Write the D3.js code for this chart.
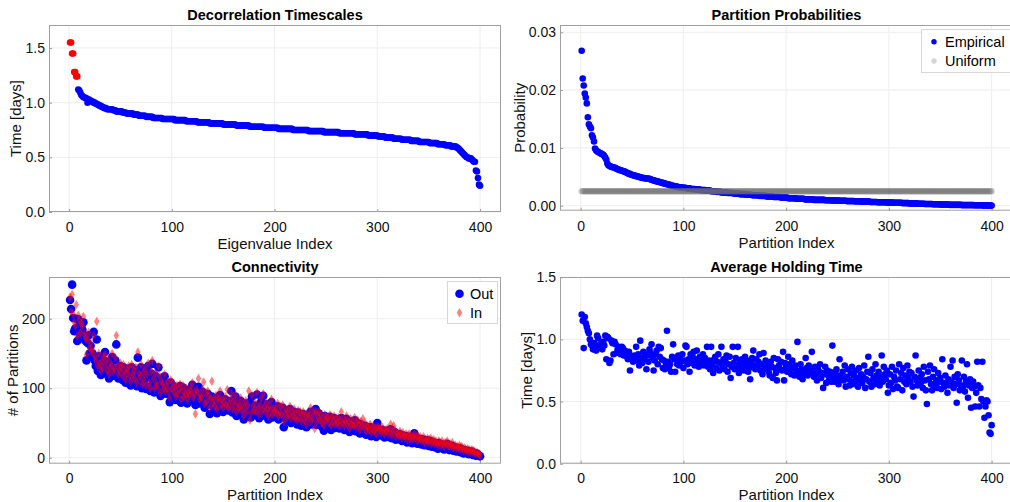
<!DOCTYPE html>
<html>
<head>
<meta charset="utf-8">
<script src="https://cdn.jsdelivr.net/npm/d3@7"></script>
<style>
  body { margin: 0; background: #fff; }
  svg { display: block; font-family: "Liberation Sans", Arial, Helvetica, sans-serif; }
</style>
</head>
<body>
<svg id="chart" width="1010" height="502"></svg>
<script>
// Markov partition summary: four panels

// decorrelation timescales, in hundredths of a day (index 1..400)
const timescales = [
  155,155,145,145,128,128,124,124,112,111, 109,107,106,105,105,104,104,100,103,102,
  102,101,101,100,100,99,99,98,98,97, 97,96,96,95,95,95,94,94,94,94,
  94,94,93,93,93,92,92,92,92,92, 92,91,91,91,91,90,90,90,90,90,
  90,90,89,89,89,89,89,88,88,88, 88,88,88,88,87,87,87,87,87,87,
  87,86,86,86,86,86,86,86,86,86, 85,85,85,85,85,85,85,85,85,85,
  85,85,84,84,84,84,84,84,84,84, 84,84,84,83,83,83,83,83,83,83,
  83,83,83,83,82,82,82,82,82,82, 82,82,82,82,82,82,81,81,81,81,
  81,81,81,81,81,81,81,81,81,80, 80,80,80,80,80,80,80,80,80,80,
  80,80,79,79,79,79,79,79,79,79, 79,79,79,79,79,78,78,78,78,78,
  78,78,78,78,78,78,78,78,78,77, 77,77,77,77,77,77,77,77,77,77,
  77,77,77,76,76,76,76,76,76,76, 76,76,76,76,76,76,76,75,75,75,
  75,75,75,75,75,75,75,75,75,75, 75,75,74,74,74,74,74,74,74,74,
  74,74,74,74,74,74,74,73,73,73, 73,73,73,73,73,73,73,73,73,73,
  73,73,72,72,72,72,72,72,72,72, 72,72,72,72,72,72,72,71,71,71,
  71,71,71,71,71,71,71,71,71,71, 70,70,70,70,70,70,70,70,70,70,
  69,69,69,69,69,69,69,68,68,68, 68,68,68,68,68,67,67,67,67,67,
  67,67,67,66,66,66,66,66,66,66, 66,66,65,65,65,65,65,65,65,65,
  64,64,64,64,64,64,64,64,64,64, 63,63,63,63,63,63,63,63,62,62,
  62,62,62,62,62,61,61,61,61,61, 61,60,60,60,60,60,59,59,58,57,
  56,55,54,53,52,51,50,50,49,49, 49,48,47,46,46,38,37,31,25,24
];
const highlighted = 8; // leading eigenvalues drawn in red

// partition probabilities, in units of 1e-4
const probabilities = [
  268,220,208,194,187,177,153,141,137,134, 122,118,111,99,96,94,93,92,91,90,
  89,88,86,83,80,73,70,69,68,67, 67,66,66,65,64,63,62,62,61,61,
  60,59,59,58,57,56,55,55,54,53, 53,52,52,51,51,50,50,49,49,48,
  48,48,47,47,47,47,46,46,45,44, 44,43,43,42,42,41,41,40,40,39,
  39,38,38,37,37,36,36,35,35,34, 34,33,33,33,32,32,32,32,31,31,
  31,31,30,30,30,30,29,29,29,29, 29,28,28,28,28,28,27,27,27,27,
  27,26,26,26,26,26,25,25,25,25, 25,24,24,24,24,24,23,23,23,23,
  23,23,22,22,22,22,22,22,21,21, 21,21,21,21,20,20,20,20,20,20,
  19,19,19,19,19,19,18,18,18,18, 18,18,18,17,17,17,17,17,17,17,
  16,16,16,16,16,16,16,15,15,15, 15,15,15,15,14,14,14,14,14,14,
  14,13,13,13,13,13,13,13,13,12, 12,12,12,12,12,12,12,11,11,11,
  11,11,11,11,11,11,10,10,10,10, 10,10,10,10,10,10,10,9.5,9.5,9.5,
  9.5,9.5,9.5,9,9,9,9,9,9,9, 9,8.5,8.5,8.5,8.5,8.5,8.5,8.5,8,8,
  8,8,8,8,8,8,7.5,7.5,7.5,7.5, 7.5,7.5,7.5,7,7,7,7,7,7,7,
  7,6.5,6.5,6.5,6.5,6.5,6.5,6.5,6,6, 6,6,6,6,6,6,6,5.5,5.5,5.5,
  5.5,5.5,5.5,5.5,5,5,5,5,5,5, 5,5,4.5,4.5,4.5,4.5,4.5,4.5,4.5,4,
  4,4,4,4,4,4,4,3.5,3.5,3.5, 3.5,3.5,3.5,3.5,3,3,3,3,3,3,
  3,3,2.5,2.5,2.5,2.5,2.5,2.5,2.5,2, 2,2,2,2,2,2,2,2,1.5,1.5,
  1.5,1.5,1.5,1.5,1.5,1.5,1.5,1.5,1.5,1.5, 1,1,1,1,1,1,1,1,1,1,
  1,1,0.8,0.8,0.8,0.8,0.8,0.7,0.7,0.7, 0.6,0.6,0.5,0.5,0.5,0.4,0.4,0.3,0.3,0.2
];
const uniformProbability = 25; // 1/400, same units

// connectivity: number of partitions reached (out) / reaching (in)
const outDegree = [
  227,214,249,201,182,186,200,168,199,190, 176,188,184,195,172,168,140,165,176,150,
  161,145,150,181,140,132,170,125,146,128, 119,135,126,140,152,130,120,138,114,126,
  131,145,118,122,140,163,128,114,120,132, 126,112,130,121,108,117,125,128,112,104,
  130,115,121,109,126,103,144,118,110,130, 100,119,107,125,99,115,132,102,96,121,
  135,110,94,118,104,97,130,114,89,108, 102,96,117,92,100,106,91,80,108,97,
  104,90,97,83,100,87,95,103,79,92, 101,84,88,96,78,90,85,99,93,105,
  82,88,76,94,91,102,78,86,83,95, 80,72,89,76,92,84,63,81,88,74,
  79,69,86,64,77,82,90,71,80,66, 75,84,70,79,68,74,81,96,65,78,
  72,88,60,76,67,70,82,63,74,55, 69,78,61,72,66,80,58,88,70,64,
  75,62,91,68,57,73,81,63,89,70, 60,77,66,55,72,64,80,58,69,62,
  66,59,74,55,63,70,58,72,44,61, 67,53,64,57,70,50,62,56,66,52,
  60,48,65,55,62,46,58,63,50,57, 44,61,53,58,66,48,55,62,51,70,
  47,56,64,50,58,45,53,39,60,49, 55,52,46,59,40,54,48,57,43,51,
  46,55,42,50,57,45,53,40,48,56, 42,49,37,52,44,46,41,54,38,47,
  50,43,35,48,41,45,39,46,33,43, 40,36,44,31,39,42,34,37,30,50,
  41,35,38,32,40,36,29,37,33,39, 30,35,41,28,34,31,37,26,33,30,
  27,34,29,24,32,28,25,31,22,27, 30,24,28,21,26,35,23,29,20,25,
  24,27,19,22,26,18,23,20,25,17, 21,24,16,19,22,15,20,18,13,21,
  17,14,19,16,12,18,15,20,13,11, 16,14,17,10,12,15,9,13,11,14,
  8,12,10,6,11,9,7,10,5,8, 6,9,4,7,5,3,6,4,3,2
];
const inDegree = [
  231,210,235,207,195,190,220,175,205,198, 180,193,190,203,178,172,148,170,180,158,
  165,152,155,176,146,140,196,132,150,135, 125,140,130,145,148,136,126,142,120,130,
  135,150,124,128,144,176,132,120,126,136, 130,118,134,125,112,122,128,132,118,110,
  134,120,126,114,130,108,152,122,116,134, 106,122,112,128,104,120,136,108,100,124,
  140,114,100,122,108,102,132,118,94,110, 106,100,120,96,104,110,96,86,112,100,
  108,94,102,88,104,92,98,106,84,96, 104,88,92,100,84,94,90,102,96,108,
  86,92,63,98,94,114,84,90,86,98, 109,78,92,80,96,88,72,86,110,78,
  84,74,90,70,82,86,96,76,84,72, 80,88,76,98,72,78,84,92,70,82,
  76,90,66,80,72,74,86,68,78,60, 72,82,66,76,96,54,64,90,74,68,
  80,66,94,72,62,76,86,68,92,74, 66,80,70,60,76,68,84,62,72,66,
  70,64,78,60,66,74,62,76,52,64, 70,58,68,62,74,56,66,60,70,56,
  64,54,68,58,66,52,62,66,54,60, 48,64,56,62,72,52,58,66,42,66,
  52,60,66,54,62,50,56,46,62,54, 58,56,50,62,46,58,52,60,48,56,
  50,58,46,54,66,50,56,46,52,60, 48,52,42,56,48,50,46,58,44,50,
  54,48,40,52,46,56,44,50,38,46, 44,40,48,36,42,46,38,42,34,44,
  44,40,42,36,44,40,34,40,38,42, 34,40,48,32,38,46,40,30,36,34,
  32,38,34,28,36,32,30,34,26,32, 34,28,32,26,30,34,28,32,24,30,
  28,30,24,26,30,22,26,24,28,22, 26,28,20,24,26,20,24,22,18,24,
  22,18,24,20,16,22,20,24,18,16, 20,18,22,14,16,18,14,16,14,18,
  12,16,14,10,14,12,10,13,8,11, 9,12,8,10,7,6,8,6,5,4
];

// average holding time, hundredths of a day
const holdingTime = [
  120,115,93,118,113,110,107,105,100,96, 95,92,97,95,91,103,101,93,96,94,
  92,98,95,103,84,102,101,81,83,99, 97,88,98,96,89,92,94,90,88,94,
  93,87,91,89,86,84,90,75,86,85, 82,87,86,94,83,88,79,99,85,81,
  90,84,88,76,87,82,92,89,96,85, 75,83,88,91,80,94,86,93,84,77,
  83,76,81,107,82,78,80,74,86,96, 84,74,85,80,87,79,84,82,88,77,
  83,95,94,80,84,74,88,81,86,90, 79,84,91,82,78,86,80,83,88,79,
  85,81,94,78,83,76,94,80,73,84, 86,77,82,88,75,81,94,79,84,76,
  82,87,74,80,86,69,78,94,81,76, 85,79,94,73,82,77,84,80,75,86,
  79,83,74,77,68,81,85,91,79,76, 84,78,82,88,75,80,72,89,77,83,
  76,80,74,71,82,78,69,85,77,73, 67,84,79,76,82,75,90,67,81,78,
  74,86,80,76,72,83,77,71,79,75, 98,73,70,80,76,68,74,72,85,77,
  71,79,74,75,90,73,70,78,72,67, 76,74,80,69,73,61,72,78,65,75,
  71,68,74,66,95,70,66,73,76,69, 64,84,71,68,74,67,79,62,70,76,
  68,63,73,78,66,71,64,75,69,62, 77,67,72,65,70,79,61,68,74,86,
  66,73,62,76,69,64,80,71,67,74, 63,70,87,66,78,72,68,75,57,63,
  72,65,78,60,70,67,75,62,61,80, 68,73,59,77,66,71,64,79,69,74,
  66,73,62,54,70,87,67,63,75,69, 65,72,61,78,67,59,48,74,68,79,
  64,59,70,76,63,67,61,73,66,69, 60,84,65,62,71,64,57,68,63,78,
  66,83,61,70,64,49,72,67,59,63, 83,62,70,58,66,80,53,63,68,45,
  61,66,62,46,57,82,63,46,61,52, 82,50,37,46,51,50,39,25,24,31
];

const indexTicks = [0, 100, 200, 300, 400];

[timescales, probabilities, outDegree, inDegree, holdingTime].forEach(function (a, k) {
  if (a.length !== 400) throw new Error('series ' + k + ' has ' + a.length + ' values');
});

const blue = '#0000ff';
const red = '#ff0000';

var svg = d3.select('#chart');

// one framed panel with grid, inward ticks, title and axis labels
function makePanel(p) {
  var g = svg.append('g');
  var x = d3.scaleLinear().domain(p.xDomain).range([p.left, p.right]);
  var y = d3.scaleLinear().domain(p.yDomain).range([p.bottom, p.top]);

  g.append('rect')
    .attr('x', p.left).attr('y', p.top)
    .attr('width', p.right - p.left).attr('height', p.bottom - p.top)
    .attr('fill', '#fff');

  // grid
  g.selectAll('.gx').data(indexTicks).enter().append('line')
    .attr('x1', d => x(d)).attr('x2', d => x(d))
    .attr('y1', p.top).attr('y2', p.bottom)
    .attr('stroke', '#ededed');
  g.selectAll('.gy').data(p.yTicks).enter().append('line')
    .attr('x1', p.left).attr('x2', p.right)
    .attr('y1', d => y(d)).attr('y2', d => y(d))
    .attr('stroke', '#ededed');

  var xAxis = g.append('g')
    .attr('transform', 'translate(0,' + p.bottom + ')')
    .call(d3.axisBottom(x).tickValues(indexTicks).tickSize(-3).tickPadding(p.xPad).tickFormat(d3.format('d')));
  var yAxis = g.append('g')
    .attr('transform', 'translate(' + p.left + ',0)')
    .call(d3.axisLeft(y).tickValues(p.yTicks).tickSize(-3).tickPadding(4).tickFormat(d3.format(p.yFormat)));
  [xAxis, yAxis].forEach(function (a) {
    a.select('.domain').remove();
    a.selectAll('line').attr('stroke', '#9a9a9a');
    a.selectAll('text').attr('font-size', 14).attr('fill', '#111').attr('font-family', null);
  });

  var plot = g.append('g');

  // frame on top of grid
  g.append('rect')
    .attr('x', p.left + 0.5).attr('y', p.top + 0.5)
    .attr('width', p.right - p.left - 1).attr('height', p.bottom - p.top - 1)
    .attr('fill', 'none').attr('stroke', '#a0a0a0');

  g.append('text')
    .attr('x', (p.left + p.right) / 2).attr('y', p.top - 5)
    .attr('text-anchor', 'middle').attr('font-size', 14.5).attr('font-weight', 'bold')
    .text(p.title);
  g.append('text')
    .attr('x', (p.left + p.right) / 2).attr('y', p.bottom + p.xLabelGap)
    .attr('text-anchor', 'middle').attr('font-size', 15).attr('fill', '#111')
    .text(p.xLabel);
  g.append('text')
    .attr('transform', 'translate(' + p.yLabelX + ',' + (p.top + p.bottom) / 2 + ') rotate(-90)')
    .attr('text-anchor', 'middle').attr('dy', '0.35em').attr('font-size', 15).attr('fill', '#111')
    .text(p.yLabel);

  return { g: g, plot: plot, x: x, y: y };
}

// ---- Decorrelation Timescales
var p1 = makePanel({
  left: 49, right: 501, top: 25, bottom: 212,
  xDomain: [-19.5, 420.4], yDomain: [0, 1.71],
  yTicks: [0, 0.5, 1.0, 1.5], yFormat: '.1f', xPad: 10, xLabelGap: 37,
  title: 'Decorrelation Timescales', xLabel: 'Eigenvalue Index', yLabel: 'Time [days]', yLabelX: 16
});
p1.plot.selectAll('circle').data(timescales).enter().append('circle')
  .attr('cx', (d, i) => p1.x(i + 1))
  .attr('cy', d => p1.y(d / 100))
  .attr('r', 3.3)
  .attr('fill', (d, i) => i < highlighted ? red : blue);

// ---- Partition Probabilities
var p2 = makePanel({
  left: 560, right: 1013, top: 25, bottom: 210.7,
  xDomain: [-20.1, 420.8], yDomain: [-0.000865, 0.03126],
  yTicks: [0, 0.01, 0.02, 0.03], yFormat: '.2f', xPad: 10, xLabelGap: 37,
  title: 'Partition Probabilities', xLabel: 'Partition Index', yLabel: 'Probability', yLabelX: 520
});
p2.plot.selectAll('circle.emp').data(probabilities).enter().append('circle')
  .attr('class', 'emp')
  .attr('cx', (d, i) => p2.x(i + 1))
  .attr('cy', d => p2.y(d / 1e4))
  .attr('r', 3.3)
  .attr('fill', blue);
p2.plot.selectAll('circle.uni').data(probabilities.map(() => uniformProbability)).enter().append('circle')
  .attr('class', 'uni')
  .attr('cx', (d, i) => p2.x(i + 1))
  .attr('cy', d => p2.y(d / 1e4))
  .attr('r', 3.3)
  .attr('fill', '#707070').attr('fill-opacity', 0.28);

var leg2 = svg.append('g');
leg2.append('rect').attr('x', 921.5).attr('y', 29.5).attr('width', 89).attr('height', 43)
  .attr('fill', '#fff').attr('stroke', '#d8d8d8');
leg2.append('circle').attr('cx', 934).attr('cy', 41.7).attr('r', 2.7).attr('fill', blue);
leg2.append('circle').attr('cx', 934).attr('cy', 61).attr('r', 2.7).attr('fill', '#d6d6d6');
leg2.append('text').attr('x', 945).attr('y', 46.7).attr('font-size', 14.5).text('Empirical');
leg2.append('text').attr('x', 945).attr('y', 66).attr('font-size', 14.5).text('Uniform');

// ---- Connectivity
var p3 = makePanel({
  left: 49, right: 501, top: 277, bottom: 463.7,
  xDomain: [-19.5, 420.4], yDomain: [-8.6, 260],
  yTicks: [0, 100, 200], yFormat: 'd', xPad: 9.4, xLabelGap: 36.3,
  title: 'Connectivity', xLabel: 'Partition Index', yLabel: '# of Partitions', yLabelX: 13
});
var diamond = d3.symbol().type(d3.symbolDiamond).size(26);
p3.plot.selectAll('circle.out').data(outDegree).enter().append('circle')
  .attr('class', 'out')
  .attr('cx', (d, i) => p3.x(i + 1))
  .attr('cy', d => p3.y(d))
  .attr('r', 4.3)
  .attr('fill', blue);
p3.plot.selectAll('path.in').data(inDegree).enter().append('path')
  .attr('class', 'in')
  .attr('d', diamond)
  .attr('transform', (d, i) => 'translate(' + p3.x(i + 1) + ',' + p3.y(d) + ')')
  .attr('fill', red).attr('fill-opacity', 0.5);

var leg3 = svg.append('g');
leg3.append('rect').attr('x', 447.5).attr('y', 281.5).attr('width', 50).attr('height', 42)
  .attr('fill', '#fff').attr('stroke', '#d8d8d8');
leg3.append('circle').attr('cx', 459.5).attr('cy', 293.7).attr('r', 4.3).attr('fill', blue);
leg3.append('path').attr('d', diamond).attr('transform', 'translate(459.5,312.7)')
  .attr('fill', red).attr('fill-opacity', 0.5);
leg3.append('text').attr('x', 470).attr('y', 298.7).attr('font-size', 14.5).text('Out');
leg3.append('text').attr('x', 470).attr('y', 317.7).attr('font-size', 14.5).text('In');

// ---- Average Holding Time
var p4 = makePanel({
  left: 560, right: 1013, top: 277, bottom: 463.7,
  xDomain: [-20.1, 420.8], yDomain: [0, 1.502],
  yTicks: [0, 0.5, 1.0, 1.5], yFormat: '.1f', xPad: 9.4, xLabelGap: 36.3,
  title: 'Average Holding Time', xLabel: 'Partition Index', yLabel: 'Time [days]', yLabelX: 527
});
p4.plot.selectAll('circle').data(holdingTime).enter().append('circle')
  .attr('cx', (d, i) => p4.x(i + 1))
  .attr('cy', d => p4.y(d / 100))
  .attr('r', 3.3)
  .attr('fill', blue);
</script>
</body>
</html>
